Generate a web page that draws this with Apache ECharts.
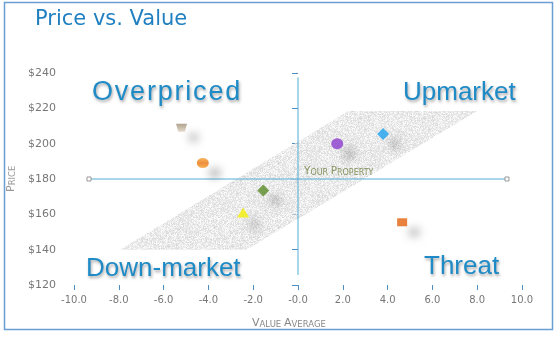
<!DOCTYPE html>
<html>
<head>
<meta charset="utf-8">
<script src="https://cdn.jsdelivr.net/npm/echarts@6/dist/echarts.min.js"></script>
<style>
  html, body { margin: 0; padding: 0; background: #fff; }
  #chart { width: 559px; height: 337px; }
</style>
</head>
<body>
<div id="chart"></div>
<script>
// ---- data ----
const xTicks = [-10, -8, -6, -4, -2, 0, 2, 4, 6, 8, 10];
const xTickLabels = ['-10.0', '-8.0', '-6.0', '-4.0', '-2.0', '-0.0', '2.0', '4.0', '6.0', '8.0', '10.0'];
const yTicks = [120, 140, 160, 180, 200, 220, 240];
const yTickLabels = ['$120', '$140', '$160', '$180', '$200', '$220', '$240'];

const propertyNames = ['Comp A', 'Comp B', 'Comp C', 'Comp D', 'Comp E', 'Comp F', 'Comp G'];
const propertyValue = [-5.2, -4.25, -1.55, -2.45, 1.75, 3.8, 4.65];
const propertyPrice = [209, 189, 173.5, 161, 200, 205.5, 155.5];

// fair-value corridor (value, price) corners
const bandValue = [-7.95, -2.3, 8.0, 2.25];
const bandPrice = [140, 140, 218.5, 218.5];

// "Your Property" reference cross
const refPrice = 180;
const refValueSpan = [-9.33, 9.33];
const refValue = 0;
const refPriceSpan = [125.7, 237.5];

// ---- marker styles ----
const markerStyles = [
  { symbol: 'path://M0,0 L10,0 L8,7 L2,7 Z', size: [11, 8],
    color: { type: 'linear', x: 0, y: 0, x2: 0, y2: 1, colorStops: [{ offset: 0, color: '#9c8c74' }, { offset: 1, color: '#ddd2c0' }] } },
  { symbol: 'circle', size: [12, 10],
    color: { type: 'linear', x: 0, y: 0, x2: 0, y2: 1, colorStops: [{ offset: 0, color: '#f7a234' }, { offset: 0.5, color: '#e8720e' }, { offset: 1, color: '#f8a030' }] } },
  { symbol: 'diamond', size: 12, color: '#5a8a28' },
  { symbol: 'triangle', size: [12, 10], color: '#f2ef06' },
  { symbol: 'circle', size: [12, 11], color: '#8b3ccf' },
  { symbol: 'diamond', size: 12, color: '#1ea2f0' },
  { symbol: 'rect', size: [10, 8], color: '#e1620c' }
];

// speckled texture for the corridor
function makeTexture() {
  const c = document.createElement('canvas');
  c.width = 64; c.height = 64;
  const ctx = c.getContext('2d');
  const img = ctx.createImageData(64, 64);
  let s = 12345;
  for (let i = 0; i < 64 * 64; i++) {
    s = (s * 1103515245 + 12345) & 0x7fffffff;
    const v = 205 + ((s >> 8) % 48);
    img.data[i * 4] = v;
    img.data[i * 4 + 1] = v;
    img.data[i * 4 + 2] = v;
    img.data[i * 4 + 3] = 255;
  }
  ctx.putImageData(img, 0, 0);
  return c;
}
const texture = makeTexture();

const chart = echarts.init(document.getElementById('chart'), null, { renderer: 'canvas' });

const quadColor = '#1f8bc6';
const quadShadow = { textShadowColor: 'rgba(0,0,0,0.35)', textShadowBlur: 3, textShadowOffsetX: 1, textShadowOffsetY: 2 };
const quadFont = { fontFamily: 'Liberation Sans', fontSize: 26, fill: quadColor };

// slightly spaced heading: each glyph wrapped in a padded rich segment
function spaced(word) {
  return word.split('').map(ch => '{c|' + ch + '}').join('');
}

const option = {
  animation: false,
  title: {
    text: 'Price vs. Value',
    left: 30, top: 4,
    textStyle: { fontFamily: 'DejaVu Sans', fontSize: 21, fontWeight: 'normal', color: '#1f7fc0' }
  },
  grid: { left: 74, right: 37, top: 73, bottom: 52 },
  xAxis: {
    type: 'value', min: -10, max: 10, interval: 2,
    axisLine: { show: false },
    axisTick: { show: true, length: 5, lineStyle: { color: '#4d8fc4', width: 1 } },
    splitLine: { show: false },
    axisLabel: {
      margin: 10, color: '#777', fontFamily: 'DejaVu Sans', fontSize: 10,
      formatter: v => { const i = xTicks.indexOf(v); return i >= 0 ? xTickLabels[i] : ''; }
    }
  },
  yAxis: {
    type: 'value', min: 120, max: 240, interval: 20,
    axisLine: { show: false },
    axisTick: { show: true, length: 6, lineStyle: { color: '#4d8fc4', width: 1 } },
    splitLine: { show: false },
    axisLabel: {
      margin: 18, color: '#777', fontFamily: 'DejaVu Sans', fontSize: 11,
      formatter: v => { const i = yTicks.indexOf(v); return i >= 0 ? yTickLabels[i] : ''; }
    }
  },
  graphic: [
    { type: 'rect', shape: { x: 4.5, y: 2.5, width: 548, height: 327 }, style: { fill: 'none', stroke: '#6a9fd4', lineWidth: 1.5 }, z: 0, silent: true },
    {
      type: 'text', left: 92, top: 79, z: 10,
      style: {
        text: spaced('Overpriced'),
        rich: { c: Object.assign({ padding: [0, 0.9, 0, 0.9], fill: quadColor }, quadShadow, { fontFamily: 'Liberation Sans', fontSize: 27 }) }
      }
    },
    { type: 'text', left: 403, top: 80, style: Object.assign({ text: 'Upmarket' }, quadFont, quadShadow), z: 10 },
    { type: 'text', left: 86, top: 256, style: Object.assign({ text: 'Down-market' }, quadFont, quadShadow), z: 10 },
    { type: 'text', left: 424, top: 254, style: Object.assign({ text: 'Threat' }, quadFont, quadShadow), z: 10 },
    {
      type: 'text', left: 252, top: 318,
      style: {
        text: '{b|V}{s|ALUE }{b|A}{s|VERAGE}',
        rich: {
          b: { fontFamily: 'DejaVu Sans', fontSize: 11, fill: '#888', verticalAlign: 'bottom' },
          s: { fontFamily: 'DejaVu Sans', fontSize: 8.5, fill: '#888', verticalAlign: 'bottom' }
        }
      }
    },
    {
      type: 'text', x: 6, y: 192, rotation: Math.PI / 2,
      style: {
        text: '{b|P}{s|RICE}',
        rich: {
          b: { fontFamily: 'DejaVu Sans', fontSize: 11, fill: '#999', verticalAlign: 'bottom' },
          s: { fontFamily: 'DejaVu Sans', fontSize: 8.5, fill: '#999', verticalAlign: 'bottom' }
        }
      }
    }
  ],
  series: [
    {
      // corridor polygon
      type: 'custom', z: 1, silent: true,
      data: [0],
      renderItem: (params, api) => {
        const pts = bandValue.map((v, i) => api.coord([v, bandPrice[i]]));
        return {
          type: 'polygon',
          shape: { points: pts },
          style: { fill: { image: texture, repeat: 'repeat' }, opacity: 0.75 }
        };
      }
    },
    {
      // horizontal reference line
      type: 'line', z: 3, silent: true,
      data: refValueSpan.map(v => [v, refPrice]),
      symbol: 'rect', symbolSize: 4, showSymbol: true,
      lineStyle: { color: '#55acd6', width: 1 },
      itemStyle: { color: '#fff', borderColor: '#999', borderWidth: 1 }
    },
    {
      // vertical reference line
      type: 'line', z: 3, silent: true,
      data: refPriceSpan.map(p => [refValue, p]),
      symbol: 'none',
      lineStyle: { color: '#55acd6', width: 1 }
    },
    {
      // label for the reference point
      type: 'scatter', z: 4, silent: true,
      data: [[refValue, refPrice]],
      symbolSize: 0,
      label: {
        show: true, position: [6, -13], align: 'left',
        formatter: '{b|Y}{s|OUR }{b|P}{s|ROPERTY}',
        rich: {
          b: { fontFamily: 'DejaVu Sans', fontSize: 10.5, color: '#6c7d3c', verticalAlign: 'bottom' },
          s: { fontFamily: 'DejaVu Sans', fontSize: 8, color: '#6c7d3c', verticalAlign: 'bottom' }
        }
      }
    },
    {
      type: 'scatter', z: 5,
      data: propertyValue.map((v, i) => ({
        name: propertyNames[i],
        value: [v, propertyPrice[i]],
        symbol: markerStyles[i].symbol,
        symbolSize: markerStyles[i].size,
        itemStyle: {
          color: markerStyles[i].color,
          shadowColor: 'rgba(0,0,0,0.35)', shadowBlur: 9,
          shadowOffsetX: 12, shadowOffsetY: 10
        }
      }))
    }
  ]
};
chart.setOption(option);
</script>
</body>
</html>
